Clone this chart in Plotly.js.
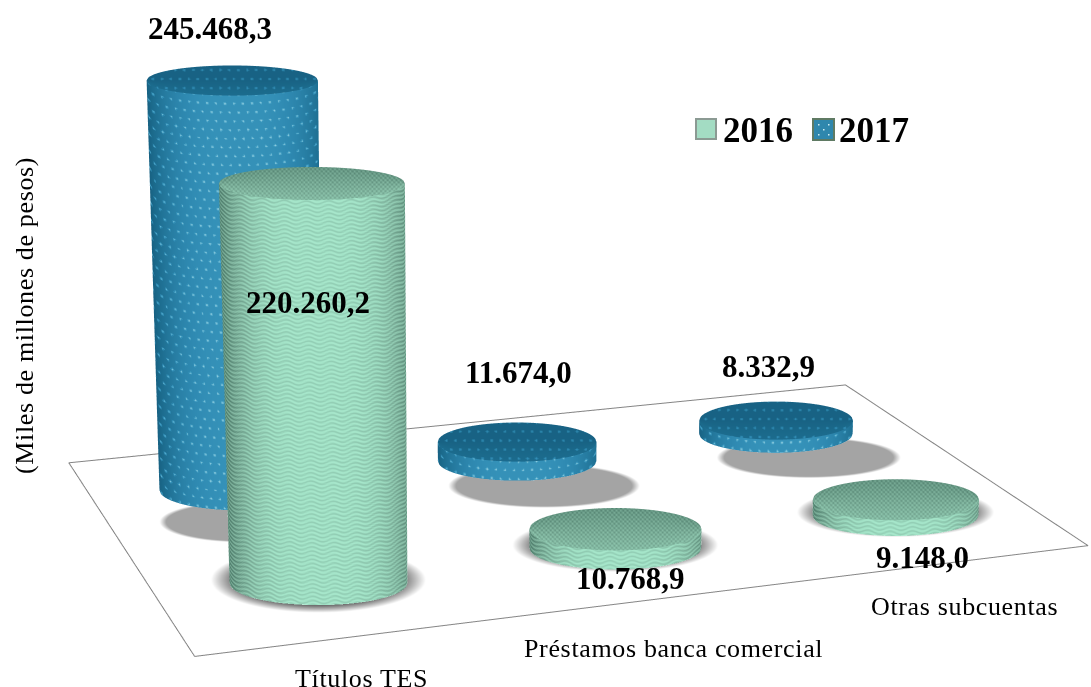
<!DOCTYPE html>
<html><head><meta charset="utf-8"><script src="https://cdn.plot.ly/plotly-3.0.1.min.js"></script>
<style>html,body{margin:0;background:#fff;overflow:hidden}
text.annotation-text[style*="font-size: 26px"]{letter-spacing:.65px}</style></head><body><div id="c" style="width:1091px;height:687px"></div>
<script>
// ---- data
const categories=['Títulos TES','Préstamos banca comercial','Otras subcuentas'];
const values2016=[220260.2,10768.9,9148.0];
const values2017=[245468.3,11674.0,8332.9];
const labels2016=['220.260,2','10.768,9','9.148,0'];
const labels2017=['245.468,3','11.674,0','8.332,9'];
const seriesNames=['2016','2017'];
// ---- scene styling
const floorCorners=[[194,657],[1089,546],[846,385],[68,463]];
const catU={2016:[.17,.504,.842],2017:[1/6,.5,5/6]}, rowV={2016:.25,2017:.75};
const shadow2016=[[0,-3,1.21,1.48],[0,-3,1.2,1.25],[0,-3,1.19,1.2]];
const shadow2017=[[0,32,1.0,1.0],[27,25,1.21,1.11],[33,24,1.2,1.07]];
const D0=190,HK=.002,TAPER=1.1e-4,LEAN=7e-5,KY=7e-4;
const sinT=.25,cosT=Math.sqrt(1-sinT*sinT),ZM=182,CAMD=5,AS=2.906;
const BLUE=[[0,'#125171'],[.2,'#1b6a8c'],[.55,'#2f8ab2'],[.7,'#3c9ac0'],[1,'#bfeaf0']];
const GREEN=[[0,'#4f7d6c'],[.3,'#7fb39d'],[.6,'#a3e4c8'],[1,'#c4f7e0']];

// floor homography (unit square -> picture plane)
const [p0,p1,p2,p3]=floorCorners;
const sx=p0[0]-p1[0]+p2[0]-p3[0],sy=p0[1]-p1[1]+p2[1]-p3[1];
const dx1=p1[0]-p2[0],dy1=p1[1]-p2[1],dx2=p3[0]-p2[0],dy2=p3[1]-p2[1],den=dx1*dy2-dx2*dy1;
const g=(sx*dy2-dx2*sy)/den,h=(dx1*sy-sx*dy1)/den;
const A=p1[0]-p0[0]+g*p1[0],B=p3[0]-p0[0]+h*p3[0],D=p1[1]-p0[1]+g*p1[1],E=p3[1]-p0[1]+h*p3[1];
function floorPt(u,v){const w=g*u+h*v+1;return {X:(A*u+B*v+p0[0])/w,Y:(D*u+E*v+p0[1])/w,w};}
const worldY=sY=>(343.5+ZM*cosT-sY)/sinT;

function dots(a,b,sp,r){const rowN=Math.floor(b/sp),off=rowN%2?sp/2:0;
  const ca=Math.round((a-off)/sp)*sp+off,cb=(rowN+.5)*sp;
  const dd=Math.hypot(a-ca,b-cb);return dd<r?1-dd/r*.5:0;}
function patSide(kind,s,X,Z,R){
  const edge=1-Math.pow(Math.abs(s-.05),3.2);
  if(kind==='2017'){const b=.2+.42*edge;const d=dots(X+300,Z+300,9,1.4);return b+d*(.95-b);}
  const b=.16+.4*edge;return b+(.17-.05*edge)*Math.sin(2*Math.PI*(Z+1.6*Math.sin(2*Math.PI*X/22))/4.2);
}
function patCap(kind,s,t,X,Yp){
  if(kind==='2017'){const b=.14+.08*(t<0?-t:0);const d=dots(X+300,Yp+300,9,1.4);return b+d*.45;}
  const b=.14+.1*(1-t);return b+.14*Math.sin(2*Math.PI*X/4.4)*Math.sin(2*Math.PI*Yp/4.4);
}
function surf(xs,ys,zs,cs,scale,nm){return {type:'surface',x:xs,y:ys,z:zs,surfacecolor:cs,cmin:0,cmax:1,colorscale:scale,showscale:false,
   hoverinfo:'skip',name:nm,lighting:{ambient:1,diffuse:0,specular:0,roughness:1,fresnel:0}};}
function cylinder(cat,kind,value){
  const fp=floorPt(catU[kind][cat],rowV[kind]);const H=value*HK/fp.w,R0=D0/2/fp.w;
  const wy=worldY(fp.Y);const scale=kind==='2017'?BLUE:GREEN;
  const lean=(fp.X-545.5)*LEAN;
  const NC=Math.round(R0*2/1.3),NZ=Math.max(6,Math.round(H/1.3));
  const xs=[],ys=[],zs=[],cs=[];
  for(let k=0;k<=NZ;k++){const z=H*k/NZ,R=R0*(1+TAPER*z),Ky=1-KY*z,a=[],b=[],c=[],e=[];
    for(let i=0;i<=NC;i++){const s=-1+2*i/NC;const X=R*s;
      a.push(fp.X+X+lean*z);b.push(wy-R*Ky*Math.sqrt(Math.max(0,1-s*s)));c.push(z);e.push(patSide(kind,s,X,z,R));}
    xs.push(a);ys.push(b);zs.push(c);cs.push(e);}
  const side=surf(xs,ys,zs,cs,scale,kind);
  const Rt=R0*(1+TAPER*H),KyT=1-KY*H,NT=Math.round(Rt*2*sinT*KyT/.8);
  const cx=[],cy=[],cz=[],cc=[];
  for(let k=0;k<=NT;k++){const t=-1+2*k/NT,a=[],b=[],c=[],e=[];
    for(let i=0;i<=NC;i++){const s=-1+2*i/NC,X=Rt*s,Yw=Rt*KyT*Math.sqrt(Math.max(0,1-s*s))*t;
      a.push(fp.X+X+lean*H);b.push(wy+Yw);c.push(H);e.push(patCap(kind,s,t,X,Yw*sinT));}
    cx.push(a);cy.push(b);cz.push(c);cc.push(e);}
  return [side,surf(cx,cy,cz,cc,scale,kind)];
}
function shadowOf(cat,kind,sh){
  const fp=floorPt(catU[kind][cat],rowV[kind]);const [dx,dy,fx,fy]=sh;
  const R=D0/2/fp.w,Dback=500;
  const wy=worldY(fp.Y+dy)+Dback*cosT,zz=-Dback*sinT;
  const xs=[],ys=[],zs=[],cs=[];
  for(let k=0;k<=30;k++){const r=k/30,a=[],b=[],c=[],e=[];
    for(let i=0;i<=90;i++){const t=2*Math.PI*i/90;
      a.push(fp.X+dx+R*fx*r*Math.cos(t));b.push(wy+R*fy*r*Math.sin(t));c.push(zz);e.push(r);}
    xs.push(a);ys.push(b);zs.push(c);cs.push(e);}
  const col=kind==='2017'?'#a4a4a4':'#666666';
  const tr=surf(xs,ys,zs,cs,[[0,col],[1,col]],'shadow');
  tr.opacityscale=kind==='2017'?[[0,1],[.92,1],[1,0]]:[[0,1],[.78,.95],[.9,.45],[1,0]];
  return tr;
}
const traces=[];
// floor outline
const fl=floorCorners.concat([floorCorners[0]]);
traces.push({type:'scatter3d',mode:'lines',x:fl.map(p=>p[0]),y:fl.map(p=>worldY(p[1])+300*cosT),z:fl.map(p=>-300*sinT),
  line:{color:'#858585',width:2},hoverinfo:'skip',showlegend:false});
values2017.forEach((v,i)=>traces.push(...cylinder(i,'2017',v)));
values2016.forEach((v,i)=>traces.push(...cylinder(i,'2016',v)));
shadow2017.forEach((s,i)=>traces.push(shadowOf(i,'2017',s)));
shadow2016.forEach((s,i)=>traces.push(shadowOf(i,'2016',s)));

function ann(text,px,py,size,bold,angle){return {text:bold?'<b>'+text+'</b>':text,xref:'paper',yref:'paper',x:px/1091,y:1-py/687,
  xanchor:'center',yanchor:'middle',showarrow:false,textangle:angle||0,font:{family:'Liberation Serif',size,color:'#000'}};}
const labelPos2017=[[210,28],[518,372],[768,367]],labelPos2016=[[308,302],[630,578],[922,557]];
const catPos=[[361,678],[673,648],[964,606]];
const annotations=[];
labels2017.forEach((t,i)=>annotations.push(ann(t,labelPos2017[i][0],labelPos2017[i][1],31,true)));
labels2016.forEach((t,i)=>annotations.push(ann(t,labelPos2016[i][0],labelPos2016[i][1],31,true)));
categories.forEach((t,i)=>annotations.push(ann(t,catPos[i][0],catPos[i][1],26)));
annotations.push(ann('(Miles de millones de pesos)',24,316,26,false,-90));
annotations.push(ann(seriesNames[0],758,130,35,true),ann(seriesNames[1],874,130,35,true));
const box=(x0,y0,x1,y1,fill)=>({type:'rect',xref:'paper',yref:'paper',x0:x0/1091,x1:x1/1091,y0:1-y1/687,y1:1-y0/687,fillcolor:fill,line:{width:0},layer:'above'});
const shapes=[box(695,118,717,140,'#8b9a93'),box(697,120,715,138,'#a3dcc3'),
  box(812,118,835,141,'#5f7a63'),box(814,120,833,139,'#2f87ad'),
  box(818,124,819.5,125.5,'#cfeef2'),box(828,124,829.5,125.5,'#cfeef2'),box(823,129,824.5,130.5,'#cfeef2'),box(818,134,819.5,135.5,'#cfeef2'),box(828,134,829.5,135.5,'#cfeef2')];
const layout={margin:{l:0,r:0,t:0,b:0},paper_bgcolor:'#fff',showlegend:false,annotations,shapes,
 scene:{domain:{x:[0,1],y:[0,1]},aspectmode:'manual',aspectratio:{x:1.091*AS,y:2.2*AS,z:1.6*AS},bgcolor:'#fff',
  xaxis:{visible:false,range:[0,1091]},yaxis:{visible:false,range:[-1100,1100]},zaxis:{visible:false,range:[ZM-800,ZM+800]},
  camera:{projection:{type:'orthographic'},center:{x:0,y:0,z:0},up:{x:0,y:0,z:1},eye:{x:0,y:-CAMD*cosT,z:CAMD*sinT}}}};
Plotly.newPlot('c',traces,layout,{displayModeBar:false});
</script></body></html>
